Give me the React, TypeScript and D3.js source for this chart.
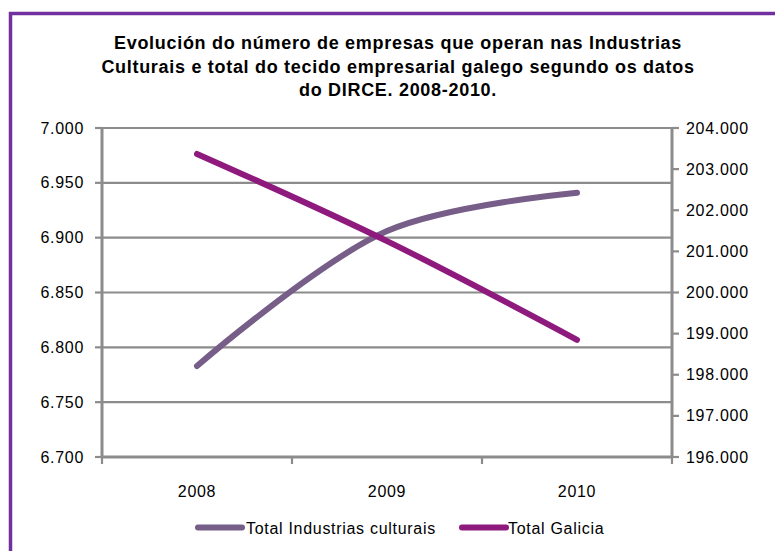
import React from "react";
import * as d3 from "d3";

const years = ["2008", "2009", "2010"];
const industrias = [6783, 6906, 6941];
const galicia = [203370, 201250, 198850];
const leftTicks = [6700, 6750, 6800, 6850, 6900, 6950, 7000];
const rightTicks = [196000, 197000, 198000, 199000, 200000, 201000, 202000, 203000, 204000];
const titleLines = [
  "Evolución do número de empresas que operan nas Industrias",
  "Culturais e total do tecido empresarial galego segundo os datos",
  "do DIRCE. 2008-2010.",
];
const seriesNames = ["Total Industrias culturais", "Total Galicia"];
const colors = ["#775E88", "#8E1A7E"];

const W = 775;
const H = 551;
const L = 102, R = 672, T = 128, B = 457;

const fmt = (v: number) => d3.format(",.0f")(v).replace(/,/g, ".");

export default function App() {
  const x = d3.scaleBand<string>().domain(years).range([L, R]);
  const yL = d3.scaleLinear().domain([6700, 7000]).range([B, T]);
  const yR = d3.scaleLinear().domain([196000, 204000]).range([B, T]);
  const cx = (d: string) => (x(d) as number) + x.bandwidth() / 2;
  const curve = d3.curveCatmullRom.alpha(0.5);
  const lineL = d3.line<number>().x((_, i) => cx(years[i])).y((v) => yL(v)).curve(curve);
  const lineR = d3.line<number>().x((_, i) => cx(years[i])).y((v) => yR(v)).curve(curve);
  const bandEdges = [...years.map((d) => x(d) as number), R];
  const font = "'Liberation Sans', Arial, sans-serif";
  const grid = "#8C8C8C";
  const ls = 0.7;

  return (
    <svg width={W} height={H} style={{ position: "absolute", left: 0, top: 0 }} fontFamily={font}>
      <rect x={0} y={0} width={W} height={H} fill="#fff" />
      <rect x={10.5} y={13.5} width={W + 20} height={H + 20} fill="none" stroke="#7030A0" strokeWidth={3.5} />
      {titleLines.map((t, i) => (
        <text key={i} x={398} y={49 + i * 23.5} textAnchor="middle" fontSize={18} fontWeight="bold" fill="#000" letterSpacing={ls}>
          {t}
        </text>
      ))}
      {leftTicks.map((v) => (
        <line key={"g" + v} x1={L} x2={R} y1={yL(v)} y2={yL(v)} stroke={grid} strokeWidth={2.2} />
      ))}
      {leftTicks.map((v) => (
        <g key={"l" + v}>
          <line x1={L - 7} x2={L} y1={yL(v)} y2={yL(v)} stroke={grid} strokeWidth={2.2} />
          <text x={84} y={yL(v) + 5.5} textAnchor="end" fontSize={16} fill="#000" letterSpacing={ls}>
            {fmt(v)}
          </text>
        </g>
      ))}
      {rightTicks.map((v) => (
        <g key={"r" + v}>
          <line x1={R} x2={R + 7} y1={yR(v)} y2={yR(v)} stroke={grid} strokeWidth={2.2} />
          <text x={686} y={yR(v) + 5.5} textAnchor="start" fontSize={16} fill="#000" letterSpacing={ls}>
            {fmt(v)}
          </text>
        </g>
      ))}
      <line x1={L} x2={L} y1={T - 1} y2={B + 1} stroke={grid} strokeWidth={3} />
      <line x1={R} x2={R} y1={T - 1} y2={B + 1} stroke={grid} strokeWidth={3} />
      <line x1={L} x2={R} y1={B} y2={B} stroke={grid} strokeWidth={3} />
      {bandEdges.map((e, i) => (
        <line key={"t" + i} x1={e} x2={e} y1={B} y2={B + 7} stroke={grid} strokeWidth={2.2} />
      ))}
      {years.map((d) => (
        <text key={d} x={cx(d)} y={497} textAnchor="middle" fontSize={16} fill="#000" letterSpacing={ls}>
          {d}
        </text>
      ))}
      <path d={lineL(industrias) || ""} fill="none" stroke={colors[0]} strokeWidth={6} strokeLinecap="round" />
      <path d={lineR(galicia) || ""} fill="none" stroke={colors[1]} strokeWidth={6} strokeLinecap="round" />
      {[
        { x0: 198, tx: 246 },
        { x0: 462, tx: 508 },
      ].map((p, i) => (
        <g key={"lg" + i}>
          <line x1={p.x0} x2={p.x0 + 44} y1={527.5} y2={527.5} stroke={colors[i]} strokeWidth={6} strokeLinecap="round" />
          <text x={p.tx} y={533.5} fontSize={16} fill="#000" letterSpacing={ls}>
            {seriesNames[i]}
          </text>
        </g>
      ))}
    </svg>
  );
}
